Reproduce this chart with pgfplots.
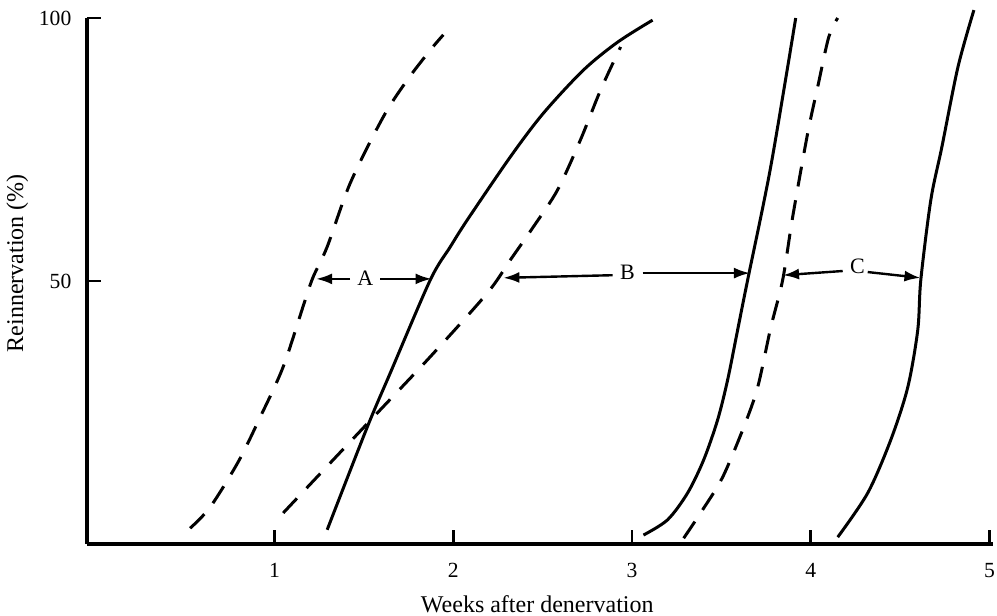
\documentclass[border=0pt]{standalone}
\usepackage{fontspec}
\setmainfont{Liberation Serif}
\usepackage{pgfplots}
\pgfplotsset{compat=1.18}
\usetikzlibrary{arrows.meta}
\begin{document}
\begin{tikzpicture}
\begin{axis}[name=ax, scale only axis, width=453pt, height=263pt,
  xmin=-0.05, xmax=5.02, ymin=0, ymax=100,
  axis x line=bottom, axis y line=left,
  axis line style={-, line width=1.9pt},
  xtick={1,2,3,4,5}, ytick={50,100},
  tick align=inside, major tick length=7pt,
  tick style={line width=1.3pt, black},
  /pgf/number format/assume math mode=true,
  ticklabel style={font=\fontsize{10.8}{12}\selectfont},
  yticklabel style={xshift=-4.3pt},
  xticklabel style={yshift=-6pt},
  xlabel={Weeks after denervation}, ylabel={Reinnervation (\%)},
  every axis x label/.style={at={(rel axis cs:0.497,-0.1293)}, anchor=base, font=\fontsize{12}{14}\selectfont},
  every axis y label/.style={at={(rel axis cs:-0.0706,0.534)}, rotate=90, anchor=base, font=\fontsize{12}{14}\selectfont},
  clip=false,
]
% dashed 1
\addplot[black, line width=1.5pt, dash pattern=on 10pt off 7pt, smooth, tension=0.5] coordinates {
(0.527,3.0) (0.639,7.0) (0.796,15.6) (0.919,24.1) (1.048,33.7) (1.171,46.4) (1.216,50.8) (1.294,56.5) (1.423,68.6) (1.608,81.2) (1.742,88.2) (1.871,93.9) (1.944,96.8)};
% solid 1
\addplot[black, line width=1.5pt, smooth, tension=0.5] coordinates {
(1.294,2.7) (1.518,22.2) (1.647,32.5) (1.871,50.2) (1.983,56.5) (2.078,61.6) (2.319,73.6) (2.504,81.9) (2.728,90.1) (2.919,95.4) (3.115,99.6)};
% dashed 2
\addplot[black, line width=1.5pt, dash pattern=on 10pt off 7pt, smooth, tension=0.5] coordinates {
(1.048,5.9) (1.311,15.4) (1.591,25.5) (1.871,35.6) (2.190,47.7) (2.319,54.0) (2.448,60.3) (2.583,67.3) (2.711,76.8) (2.824,86.3) (2.936,94.5)};
% solid 2
\addplot[black, line width=1.5pt, smooth, tension=0.5] coordinates {
(3.064,1.7) (3.199,4.6) (3.311,9.7) (3.401,16.0) (3.479,23.6) (3.535,31.2) (3.591,40.7) (3.647,50.2) (3.776,71.7) (3.916,100.0)};
% dashed 3
\addplot[black, line width=1.5pt, dash pattern=on 10pt off 7pt, smooth, tension=0.5] coordinates {
(3.289,1.1) (3.395,6.5) (3.507,12.7) (3.625,22.2) (3.703,29.8) (3.776,41.1) (3.843,50.2) (3.899,62.2) (3.983,78.1) (4.039,86.9) (4.101,96.4) (4.151,100.0)};
% solid 3
\addplot[black, line width=1.5pt, smooth, tension=0.5] coordinates {
(4.151,1.3) (4.319,9.7) (4.448,19.8) (4.543,29.8) (4.599,40.7) (4.616,50.2) (4.672,65.4) (4.734,75.5) (4.824,90.7) (4.913,101.5)};
% interval arrows
\tikzset{iv/.style={line width=1.2pt, -{Latex[length=8pt,width=5.5pt]}}}
\draw[iv] (axis cs:1.423,50.4) -- (axis cs:1.232,50.4);
\draw[iv] (axis cs:1.591,50.4) -- (axis cs:1.878,50.4);
\node[font=\fontsize{11}{12}\selectfont] at (axis cs:1.507,50.6) {A};
\draw[iv] (axis cs:2.891,51.1) -- (axis cs:2.280,50.6);
\draw[iv] (axis cs:3.059,51.5) -- (axis cs:3.660,51.5);
\node[font=\fontsize{11}{12}\selectfont] at (axis cs:2.975,51.6) {B};
\draw[iv] (axis cs:4.179,51.9) -- (axis cs:3.845,51.1);
\draw[iv] (axis cs:4.319,51.7) -- (axis cs:4.614,50.6);
\node[font=\fontsize{11}{12}\selectfont] at (axis cs:4.262,52.8) {C};
\end{axis}
\pgfresetboundingbox
\path ([xshift=-43.5pt,yshift=-36pt]ax.south west) rectangle ([xshift=2pt,yshift=9pt]ax.north east);
\end{tikzpicture}
\end{document}
